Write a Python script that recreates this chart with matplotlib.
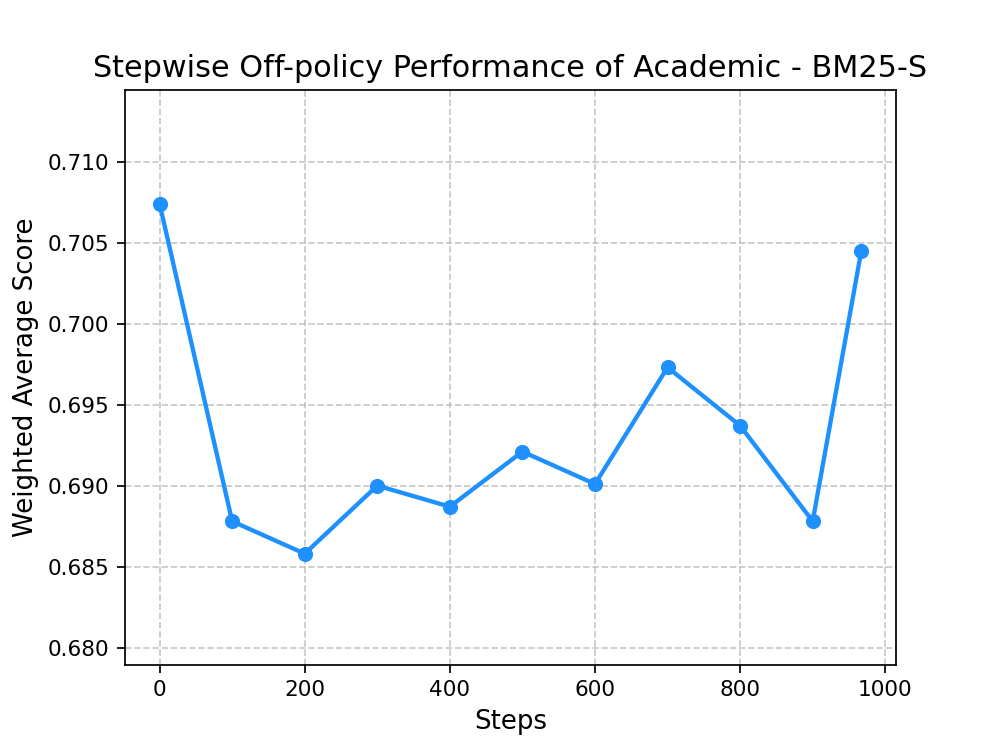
import matplotlib
matplotlib.use("Agg")
import matplotlib.pyplot as plt

# step checkpoints and weighted average scores
steps = [0, 100, 200, 300, 400, 500, 600, 700, 800, 900, 967]
scores = [0.7074, 0.6878, 0.6858, 0.6900, 0.6887, 0.6921, 0.6901, 0.6973, 0.6937, 0.6878, 0.7045]

fig, ax = plt.subplots(figsize=(6.4, 4.8))
ax.plot(steps, scores, marker='o', color='dodgerblue', linewidth=2)
ax.set_ylim(0.67894, 0.71444)
ax.set_title('Stepwise Off-policy Performance of Academic - BM25-S', fontsize=14)
ax.set_xlabel('Steps', fontsize=12)
ax.set_ylabel('Weighted Average Score', fontsize=12)
ax.grid(True, linestyle='--', alpha=0.7)
ax.yaxis.set_major_formatter(matplotlib.ticker.FormatStrFormatter('%.3f'))

fig.savefig('out.png', dpi=155.625)
